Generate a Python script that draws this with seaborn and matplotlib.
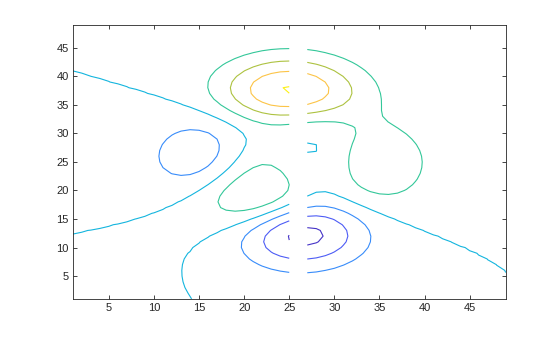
import numpy as np
import matplotlib
matplotlib.use("Agg")
import matplotlib.pyplot as plt
import seaborn as sns

# ---- data: MATLAB peaks(49) surface with a discontinuity column ----
grid_n = 49
nan_column = 26          # 1-based column set to NaN
levels = [-6, -4, -2, 0, 2, 4, 6, 8]
x_ticks = [5, 10, 15, 20, 25, 30, 35, 40, 45]
y_ticks = [5, 10, 15, 20, 25, 30, 35, 40, 45]

u = np.linspace(-3, 3, grid_n)
X, Y = np.meshgrid(u, u)
Z = (3 * (1 - X) ** 2 * np.exp(-X ** 2 - (Y + 1) ** 2)
     - 10 * (X / 5 - X ** 3 - Y ** 5) * np.exp(-X ** 2 - Y ** 2)
     - 1 / 3 * np.exp(-(X + 1) ** 2 - Y ** 2))
Z[:, nan_column - 1] = np.nan
cols = np.arange(1, grid_n + 1)
rows = np.arange(1, grid_n + 1)

# ---- style ----
sns.set_theme(style="white")
plt.rcParams['font.family'] = ['Liberation Sans', 'DejaVu Sans']

level_colors = [
    (0.27, 0.20, 0.78),   # -6
    (0.30, 0.36, 0.96),   # -4
    (0.22, 0.55, 0.98),   # -2
    (0.08, 0.71, 0.87),   # 0
    (0.20, 0.78, 0.60),   # 2
    (0.68, 0.76, 0.25),   # 4
    (0.99, 0.77, 0.28),   # 6
    (0.99, 0.94, 0.08),   # 8
]

fig = plt.figure(figsize=(5.6, 3.37), dpi=100)
ax = fig.add_axes([0.13, 0.113, 0.773, 0.813])
ax.contour(cols, rows, Z, levels=levels, colors=level_colors, linewidths=0.8)

ax.set_xlim(1, grid_n)
ax.set_ylim(1, grid_n)
ax.set_xticks(x_ticks)
ax.set_yticks(y_ticks)
dark = (0.15, 0.15, 0.15)
ax.tick_params(direction='in', length=3, width=0.6, colors=dark,
               labelsize=8, top=True, right=True, bottom=True, left=True,
               labeltop=False, labelright=False, pad=3)
for s in ax.spines.values():
    s.set_color(dark)
    s.set_linewidth(0.6)
    s.set_visible(True)
ax.set_facecolor('white')
fig.patch.set_facecolor('white')

fig.savefig("out.png", dpi=100)
